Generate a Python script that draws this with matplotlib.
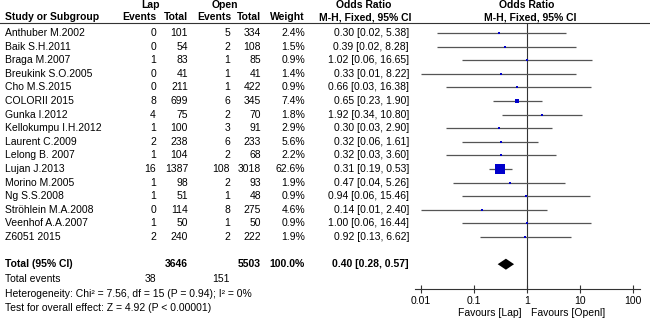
import numpy as np
import matplotlib
matplotlib.use('Agg')
import matplotlib.pyplot as plt

plt.rcParams['font.family'] = ['Liberation Sans', 'DejaVu Sans']

# data
studies = ['Anthuber M.2002', 'Baik S.H.2011', 'Braga M.2007', 'Breukink S.O.2005',
           'Cho M.S.2015', 'COLORII 2015', 'Gunka I.2012', 'Kellokumpu I.H.2012',
           'Laurent C.2009', 'Lelong B. 2007', 'Lujan J.2013', 'Morino M.2005',
           'Ng S.S.2008', 'Ströhlein M.A.2008', 'Veenhof A.A.2007', 'Z6051 2015']
lap_events = [0, 0, 1, 0, 0, 8, 4, 1, 2, 1, 16, 1, 1, 0, 1, 2]
lap_total = [101, 54, 83, 41, 211, 699, 75, 100, 238, 104, 1387, 98, 51, 114, 50, 240]
open_events = [5, 2, 1, 1, 1, 6, 2, 3, 6, 2, 108, 2, 1, 8, 1, 2]
open_total = [334, 108, 85, 41, 422, 345, 70, 91, 233, 68, 3018, 93, 48, 275, 50, 222]
weights = [2.4, 1.5, 0.9, 1.4, 0.9, 7.4, 1.8, 2.9, 5.6, 2.2, 62.6, 1.9, 0.9, 4.6, 0.9, 1.9]
or_est = [0.30, 0.39, 1.02, 0.33, 0.66, 0.65, 1.92, 0.30, 0.32, 0.32, 0.31, 0.47, 0.94, 0.14, 1.00, 0.92]
or_lo = [0.02, 0.02, 0.06, 0.01, 0.03, 0.23, 0.34, 0.03, 0.06, 0.03, 0.19, 0.04, 0.06, 0.01, 0.06, 0.13]
or_hi = [5.38, 8.28, 16.65, 8.22, 16.38, 1.90, 10.80, 2.90, 1.61, 3.60, 0.53, 5.26, 15.46, 2.40, 16.44, 6.62]

total_lap, total_open = 3646, 5503
total_weight = 100.0
total_ev_lap, total_ev_open = 38, 151
pooled = (0.40, 0.28, 0.57)
ticks = [0.01, 0.1, 1, 10, 100]
tick_labels = ['0.01', '0.1', '1', '10', '100']

FS = 7.5
LINE = '#333333'

fig = plt.figure(figsize=(6.5, 3.2), dpi=100)

# text part, pixel coordinates
ax = fig.add_axes([0, 0, 1, 1])
ax.set_xlim(0, 650)
ax.set_ylim(320, 0)
ax.axis('off')

def row_y(i):
    return 33 + 13.6 * i

# header
ax.text(150, 5.5, 'Lap', ha='center', va='center', fontsize=FS, fontweight='bold')
ax.text(225, 5.5, 'Open', ha='center', va='center', fontsize=FS, fontweight='bold')
ax.text(364, 5.5, 'Odds Ratio', ha='center', va='center', fontsize=FS, fontweight='bold')
ax.text(527, 5.5, 'Odds Ratio', ha='center', va='center', fontsize=FS, fontweight='bold')
hy = 17.5
ax.text(5, hy, 'Study or Subgroup', ha='left', va='center', fontsize=FS, fontweight='bold')
ax.text(156, hy, 'Events', ha='right', va='center', fontsize=FS, fontweight='bold')
ax.text(188, hy, 'Total', ha='right', va='center', fontsize=FS, fontweight='bold')
ax.text(231, hy, 'Events', ha='right', va='center', fontsize=FS, fontweight='bold')
ax.text(261, hy, 'Total', ha='right', va='center', fontsize=FS, fontweight='bold')
ax.text(305, hy, 'Weight', ha='right', va='center', fontsize=FS, fontweight='bold')
ax.text(365, hy, 'M-H, Fixed, 95% CI', ha='center', va='center', fontsize=FS, fontweight='bold')
ax.text(530, hy, 'M-H, Fixed, 95% CI', ha='center', va='center', fontsize=FS, fontweight='bold')
ax.plot([0, 650], [22.5, 22.5], color=LINE, lw=0.8)

# study rows
for i, name in enumerate(studies):
    y = row_y(i)
    ax.text(5, y, name, ha='left', va='center', fontsize=FS)
    ax.text(156, y, str(lap_events[i]), ha='right', va='center', fontsize=FS)
    ax.text(188, y, str(lap_total[i]), ha='right', va='center', fontsize=FS)
    ax.text(230, y, str(open_events[i]), ha='right', va='center', fontsize=FS)
    ax.text(261, y, str(open_total[i]), ha='right', va='center', fontsize=FS)
    ax.text(305, y, f'{weights[i]:.1f}%', ha='right', va='center', fontsize=FS)
    ax.text(409, y, f'{or_est[i]:.2f} [{or_lo[i]:.2f}, {or_hi[i]:.2f}]',
            ha='right', va='center', fontsize=FS)

# total rows
ty = row_y(17)
ax.text(5, ty, 'Total (95% CI)', ha='left', va='center', fontsize=FS, fontweight='bold')
ax.text(188, ty, str(total_lap), ha='right', va='center', fontsize=FS, fontweight='bold')
ax.text(261, ty, str(total_open), ha='right', va='center', fontsize=FS, fontweight='bold')
ax.text(305, ty, f'{total_weight:.1f}%', ha='right', va='center', fontsize=FS, fontweight='bold')
ax.text(409, ty, f'{pooled[0]:.2f} [{pooled[1]:.2f}, {pooled[2]:.2f}]',
        ha='right', va='center', fontsize=FS, fontweight='bold')
ax.text(5, 279, 'Total events', ha='left', va='center', fontsize=FS)
ax.text(156, 279, str(total_ev_lap), ha='right', va='center', fontsize=FS)
ax.text(230, 279, str(total_ev_open), ha='right', va='center', fontsize=FS)
ax.text(5, 294, 'Heterogeneity: Chi² = 7.56, df = 15 (P = 0.94); I² = 0%',
        ha='left', va='center', fontsize=FS)
ax.text(5, 308, 'Test for overall effect: Z = 4.92 (P < 0.00001)',
        ha='left', va='center', fontsize=FS)

# forest plot
AXY = 289
dec = 53.3
fx = fig.add_axes([415 / 650, (320 - AXY) / 320, 225 / 650, (AXY - 22.5) / 320])
fx.set_xscale('log')
fx.set_xlim(10 ** (-2 - 6 / dec), 10 ** (2 + 7 / dec))
fx.set_ylim(AXY, 22.5)
fx.patch.set_alpha(0)
for s in ['left', 'right', 'top']:
    fx.spines[s].set_visible(False)
fx.spines['bottom'].set_color(LINE)
fx.spines['bottom'].set_linewidth(0.8)
fx.set_yticks([])
fx.set_xticks(ticks)
fx.set_xticklabels(tick_labels, fontsize=FS)
fx.minorticks_off()
fx.tick_params(axis='x', direction='inout', length=6, width=0.8, color=LINE, pad=2)
fx.axvline(1, color=LINE, lw=0.8)

for i in range(len(studies)):
    y = row_y(i)
    fx.plot([or_lo[i], or_hi[i]], [y, y], color='#555555', lw=0.9, solid_capstyle='butt')
    side = max(10 * np.sqrt(weights[i] / 62.6), 2.0)
    fx.plot(or_est[i], y, marker='s', color='#0000CC', ms=side * 0.72, mew=0)

# pooled diamond
est, lo, hi = pooled
fx.fill([lo, est, hi, est], [ty, ty - 5.5, ty, ty + 5.5], color='black', lw=0)

fx.text(0.78, 313, 'Favours [Lap]', ha='right', va='center', fontsize=FS)
fx.text(1.2, 313, 'Favours [Openl]', ha='left', va='center', fontsize=FS)

fig.savefig('out.png', dpi=100)
